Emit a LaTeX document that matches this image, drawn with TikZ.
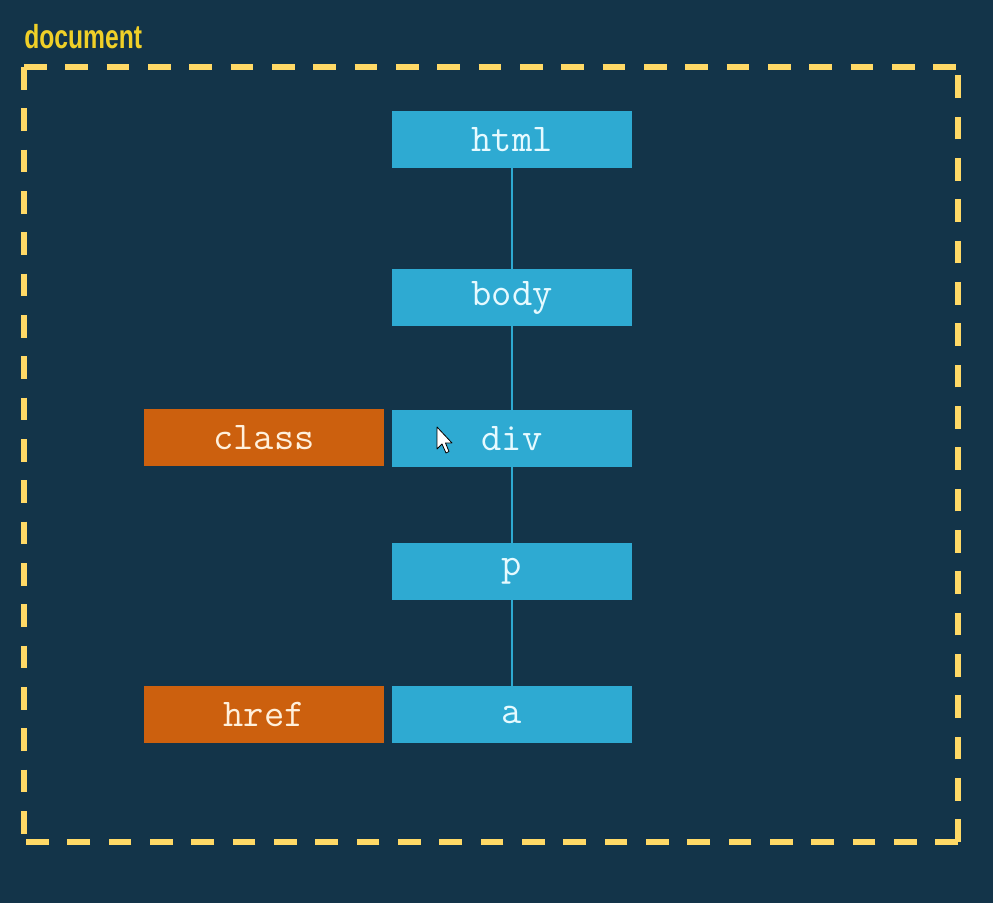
\documentclass[tikz,border=0pt]{standalone}
\usepackage{fontspec}
\newfontfamily\titlefont[FakeStretch=0.74]{Liberation Sans Bold}
\definecolor{bg}{RGB}{19,52,73}
\definecolor{nodeblue}{RGB}{46,170,210}
\definecolor{attrorange}{RGB}{204,96,14}
\definecolor{dashyellow}{RGB}{255,217,102}
\definecolor{titleyellow}{RGB}{240,208,40}
\definecolor{bluetext}{RGB}{230,250,255}
\definecolor{orangetext}{RGB}{255,240,220}
\begin{document}
\begin{tikzpicture}[x=0.75pt,y=-0.75pt,
  elem/.style={fill=nodeblue, minimum width=180pt, minimum height=43pt, inner sep=0pt, text=bluetext, font=\ttfamily\fontsize{29.5}{29.5}\selectfont},
  attr/.style={elem, fill=attrorange, text=orangetext},
  link/.style={draw=nodeblue, line width=1.6pt},
  frame/.style={draw=dashyellow, line width=4.5pt, dash pattern=on 17pt off 14pt}]
\fill[bg] (0,0) rectangle (993,903);
\useasboundingbox (0,0) rectangle (993,903);
\coordinate (tl) at (24,67);
\coordinate (tr) at (958,67);
\coordinate (br) at (958,842);
\coordinate (bl) at (24,842);
\draw[frame] (tl) -- (tr);
\draw[frame] (tl) -- (bl);
\draw[frame] (br) -- (bl);
\draw[frame] (br) -- (tr);
\node[text=titleyellow, font=\titlefont\fontsize{25}{25}\selectfont, anchor=west, inner sep=0pt] (title) at (24,37) {document};
\node[elem] (html) at (512,139.5) {html};
\node[elem] (body) at (512,297.5) {body};
\node[elem] (div) at (512,438.5) {div};
\node[elem] (p) at (512,571.5) {p};
\node[elem] (a) at (512,714.5) {a};
\node[attr] (class) at (264,437.5) {class};
\node[attr] (href) at (264,714.5) {href};
\draw[link] (html) -- (body);
\draw[link] (body) -- (div);
\draw[link] (div) -- (p);
\draw[link] (p) -- (a);
% mouse cursor
\draw[fill=white, draw=black, line width=0.6pt, line join=round]
  (437,427) -- (437,449) -- (442,444) -- (446,453) -- (449,451.5) -- (445.5,443) -- (452,443) -- cycle;
\end{tikzpicture}
\end{document}
